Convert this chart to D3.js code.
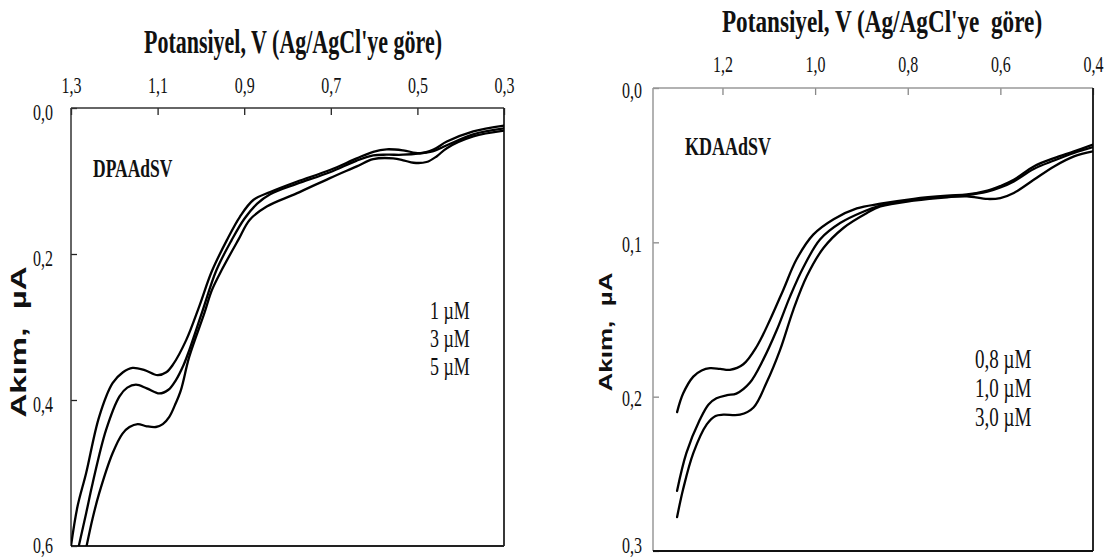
<!DOCTYPE html>
<html><head><meta charset="utf-8">
<script src="https://cdn.jsdelivr.net/npm/d3@7"></script>
<style>
html,body{margin:0;padding:0;background:#fff;}
svg{display:block;}
text{fill:#111;}
</style></head>
<body>
<svg id="chart" width="1110" height="558"></svg>
<script>
// ---------- DATA ----------
const xTitle = "Potansiyel, V (Ag/AgCl'ye göre)";
const yTitle = "Akım,  µA";

// Left panel (DPAAdSV)
const leftLabel = "DPAAdSV";
const leftXTicks = [1.3, 1.1, 0.9, 0.7, 0.5, 0.3];
const leftYTicks = [0.0, 0.2, 0.4, 0.6];
const leftLegend = ["1 µM", "3 µM", "5 µM"];
const dpa1 = [[1.300,0.600],[1.285,0.546],[1.265,0.500],[1.235,0.423],[1.204,0.377],[1.180,0.362],[1.158,0.356],[1.130,0.359],[1.100,0.366],[1.080,0.362],[1.065,0.352],[1.034,0.318],[1.004,0.272],[0.975,0.224],[0.940,0.181],[0.910,0.149],[0.879,0.126],[0.840,0.115],[0.779,0.101],[0.702,0.085],[0.640,0.069],[0.602,0.060],[0.571,0.0566],[0.533,0.058],[0.494,0.062],[0.463,0.057],[0.432,0.046],[0.371,0.032],[0.300,0.024]];
const dpa3 = [[1.282,0.600],[1.265,0.555],[1.250,0.514],[1.219,0.441],[1.188,0.395],[1.170,0.383],[1.150,0.379],[1.125,0.384],[1.096,0.391],[1.075,0.386],[1.058,0.373],[1.040,0.352],[1.027,0.332],[0.998,0.281],[0.964,0.222],[0.929,0.181],[0.900,0.152],[0.870,0.131],[0.840,0.118],[0.779,0.104],[0.702,0.088],[0.640,0.072],[0.602,0.065],[0.571,0.064],[0.533,0.064],[0.494,0.062],[0.463,0.059],[0.432,0.051],[0.371,0.036],[0.300,0.028]];
const dpa5 = [[1.264,0.600],[1.250,0.562],[1.235,0.528],[1.204,0.473],[1.181,0.446],[1.165,0.437],[1.146,0.433],[1.125,0.436],[1.104,0.437],[1.088,0.433],[1.073,0.423],[1.060,0.407],[1.046,0.386],[1.027,0.341],[0.992,0.281],[0.975,0.250],[0.952,0.222],[0.914,0.181],[0.887,0.153],[0.848,0.135],[0.779,0.117],[0.702,0.096],[0.640,0.080],[0.602,0.070],[0.556,0.069],[0.530,0.072],[0.509,0.075],[0.479,0.074],[0.455,0.066],[0.432,0.055],[0.371,0.039],[0.300,0.031]];

// Right panel (KDAAdSV)
const rightLabel = "KDAAdSV";
const rightXTicks = [1.2, 1.0, 0.8, 0.6, 0.4];
const rightYTicks = [0.0, 0.1, 0.2, 0.3];
const rightLegend = ["0,8 µM", "1,0 µM", "3,0 µM"];
const kda08 = [[1.298,0.210],[1.285,0.198],[1.263,0.187],[1.245,0.183],[1.227,0.1815],[1.205,0.182],[1.184,0.1826],[1.155,0.179],[1.126,0.1675],[1.097,0.150],[1.069,0.131],[1.040,0.111],[1.004,0.095],[0.960,0.085],[0.910,0.078],[0.859,0.0750],[0.787,0.0718],[0.715,0.0698],[0.672,0.0690],[0.628,0.0665],[0.600,0.0635],[0.571,0.0595],[0.528,0.0508],[0.484,0.0454],[0.441,0.0411],[0.400,0.0367]];
const kda10 = [[1.298,0.261],[1.278,0.2366],[1.249,0.215],[1.230,0.205],[1.213,0.201],[1.190,0.199],[1.170,0.198],[1.141,0.191],[1.112,0.176],[1.083,0.157],[1.054,0.135],[1.025,0.116],[0.989,0.098],[0.946,0.0875],[0.895,0.080],[0.859,0.0762],[0.787,0.0725],[0.715,0.0703],[0.672,0.0694],[0.628,0.0672],[0.600,0.0645],[0.571,0.0605],[0.528,0.0525],[0.484,0.047],[0.441,0.0421],[0.400,0.0383]];
const kda30 = [[1.298,0.278],[1.285,0.260],[1.263,0.2366],[1.234,0.218],[1.215,0.2125],[1.198,0.2117],[1.162,0.2117],[1.133,0.207],[1.105,0.191],[1.076,0.170],[1.047,0.1437],[1.018,0.122],[0.982,0.1037],[0.939,0.0907],[0.888,0.081],[0.859,0.0768],[0.787,0.0730],[0.715,0.0708],[0.672,0.0702],[0.628,0.0719],[0.600,0.0713],[0.571,0.068],[0.528,0.0595],[0.484,0.0508],[0.441,0.0443],[0.400,0.0411]];

// ---------- DRAW ----------
const SY = 1.45;
const svg = d3.select("#chart");
const serif = "'Liberation Serif','Times New Roman',serif";
const sans = "'Liberation Sans',Arial,sans-serif";
const fmt = d => d3.format(".1f")(d).replace(".", ",");

function stext(g, x, y, txt, size, opts = {}) {
  const sy = opts.sy || SY;
  return g.append("text")
    .attr("transform", `translate(${x},${y}) scale(1,${sy})${opts.rotate ? " rotate(-90)" : ""}`)
    .attr("font-family", opts.family || serif)
    .attr("font-size", size)
    .attr("font-weight", opts.bold ? "bold" : "normal")
    .attr("text-anchor", opts.anchor || "start")
    .style("white-space", "pre")
    .text(txt);
}

function panel(cfg) {
  const g = svg.append("g");
  const x = d3.scaleLinear().domain(cfg.xDomain).range([cfg.left, cfg.right]);
  const y = d3.scaleLinear().domain(cfg.yDomain).range([cfg.top, cfg.bottom]);

  const clipId = "clip" + cfg.id;
  svg.append("clipPath").attr("id", clipId).append("rect")
    .attr("x", cfg.left).attr("y", cfg.top)
    .attr("width", cfg.right - cfg.left).attr("height", cfg.bottom - cfg.top);

  // top axis
  const ax = g.append("g").attr("transform", `translate(0,${cfg.top})`)
    .call(d3.axisTop(x).tickValues(cfg.xTicks).tickSizeInner(-7).tickSizeOuter(0).tickFormat(fmt));
  ax.select(".domain").remove();
  ax.selectAll(".tick line").attr("stroke", cfg.tickColor).attr("stroke-width", 1.3);
  ax.selectAll(".tick text")
    .attr("y", null).attr("dy", null)
    .attr("transform", `translate(0,${cfg.xLabelBase - cfg.top}) scale(1,${SY})`)
    .attr("font-family", serif).attr("font-size", 16).attr("fill", "#111");

  // left axis
  const ay = g.append("g").attr("transform", `translate(${cfg.left},0)`)
    .call(d3.axisLeft(y).tickValues(cfg.yTicks).tickSizeInner(-6).tickSizeOuter(0).tickFormat(fmt));
  ay.select(".domain").remove();
  ay.selectAll(".tick line").attr("stroke", cfg.tickColor).attr("stroke-width", 1.3);
  ay.selectAll(".tick text")
    .attr("x", null).attr("dy", null)
    .attr("text-anchor", "end")
    .attr("transform", d => `translate(${-cfg.yLabelGap},${Math.min(cfg.yLabelDrop, 552 - y(d))}) scale(1,${SY})`)
    .attr("font-family", serif).attr("font-size", 16).attr("fill", "#111");

  // frame
  const fr = g.append("g").attr("fill", "none");
  fr.append("line").attr("x1", cfg.left).attr("x2", cfg.right).attr("y1", cfg.top).attr("y2", cfg.top)
    .attr("stroke", cfg.frameTL).attr("stroke-width", 1.5);
  fr.append("line").attr("x1", cfg.left).attr("x2", cfg.left).attr("y1", cfg.top).attr("y2", cfg.bottom)
    .attr("stroke", cfg.frameTL).attr("stroke-width", 1.5);
  fr.append("line").attr("x1", cfg.left).attr("x2", cfg.right).attr("y1", cfg.bottom).attr("y2", cfg.bottom)
    .attr("stroke", cfg.frameBR).attr("stroke-width", 1.8);
  fr.append("line").attr("x1", cfg.right).attr("x2", cfg.right).attr("y1", cfg.top).attr("y2", cfg.bottom)
    .attr("stroke", cfg.frameBR).attr("stroke-width", 1.8);

  // curves
  const line = d3.line().x(d => x(d[0])).y(d => y(d[1])).curve(d3.curveCatmullRom.alpha(0.5));
  g.append("g").attr("clip-path", `url(#${clipId})`)
    .selectAll("path").data(cfg.series).join("path")
    .attr("d", line).attr("fill", "none").attr("stroke", "#000")
    .attr("stroke-width", 2.3).attr("stroke-linejoin", "round").attr("stroke-linecap", "round");

  // titles
  stext(g, cfg.titleX, cfg.titleY, cfg.titleText, cfg.titleSize, {bold: true, anchor: "middle", sy: cfg.titleSY});
  stext(g, cfg.yTitleX, cfg.yTitleY, yTitle, cfg.yTitleSize, {bold: true, anchor: "middle", rotate: true, family: sans, sy: cfg.yTitleSY});
  stext(g, cfg.nameX, cfg.nameY, cfg.name, cfg.nameSize, {bold: true});
  cfg.legend.forEach((t, i) => stext(g, cfg.legX, cfg.legY + i * cfg.legStep, t, cfg.legSize));
}

panel({
  id: "L", xDomain: [1.3, 0.3], yDomain: [0, 0.6],
  left: 71, right: 504, top: 108, bottom: 546,
  xTicks: leftXTicks, yTicks: leftYTicks,
  xLabelBase: 93, yLabelGap: 18, yLabelDrop: 11,
  tickColor: "#222", frameTL: "#333", frameBR: "#222",
  series: [dpa1, dpa3, dpa5],
  titleText: xTitle, titleX: 293, titleY: 53, titleSize: 22, titleSY: 1.5,
  yTitleX: 26, yTitleY: 342, yTitleSize: 22, yTitleSY: 1.5,
  name: leftLabel, nameX: 93, nameY: 177, nameSize: 17.5,
  legend: leftLegend, legX: 430, legY: 319, legStep: 28, legSize: 18
});

panel({
  id: "R", xDomain: [1.35, 0.4], yDomain: [0, 0.3],
  left: 653, right: 1093, top: 88, bottom: 551,
  xTicks: rightXTicks, yTicks: rightYTicks,
  xLabelBase: 72, yLabelGap: 11, yLabelDrop: 9,
  tickColor: "#888", frameTL: "#999", frameBR: "#111",
  series: [kda08, kda10, kda30],
  titleText: "Potansiyel, V (Ag/AgCl'ye  göre)", titleX: 882, titleY: 32, titleSize: 23.2, titleSY: 1.4,
  yTitleX: 612, yTitleY: 332, yTitleSize: 19, yTitleSY: 1.37,
  name: rightLabel, nameX: 685, nameY: 155, nameSize: 18,
  legend: rightLegend, legX: 975, legY: 368, legStep: 29, legSize: 19
});
</script>
</body></html>
